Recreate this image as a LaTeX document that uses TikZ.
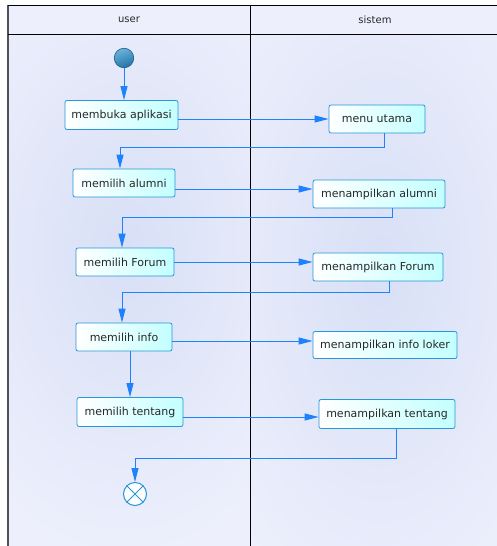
\documentclass[tikz,border=0pt]{standalone}
\usepackage{fontspec}
\setmainfont{DejaVu Sans}
\usepackage{tikz}
\usetikzlibrary{positioning, shapes, arrows.meta}
\definecolor{LaneBg}{RGB}{237, 239, 252}
\definecolor{LaneShade}{RGB}{216, 224, 246}
\definecolor{FrameGray}{RGB}{80, 80, 90}
\definecolor{FlowBlue}{RGB}{30, 130, 255}
\definecolor{BoxBorder}{RGB}{40, 150, 215}
\definecolor{BoxCyan}{RGB}{195, 255, 255}
\definecolor{TextGray}{RGB}{40, 40, 40}
\definecolor{StartLight}{RGB}{105, 180, 222}
\definecolor{StartDark}{RGB}{35, 115, 165}
\definecolor{EndBlue}{RGB}{35, 150, 220}

\begin{document}
\begin{tikzpicture}[x=1pt, y=-1pt,
    act/.style={draw=BoxBorder, line width=0.8pt, rounded corners=2pt,
      left color=white, right color=BoxCyan, text=TextGray,
      font=\fontsize{11}{13}\selectfont, inner sep=0pt},
    flow/.style={draw=FlowBlue, line width=1pt, -{Triangle[length=14pt, width=7pt]}}]
      \useasboundingbox (0,0) rectangle (497,546);

      % Swimlanes
      \fill[LaneBg] (8,5) rectangle (497,546);
      \begin{scope}
        \clip (8,34) rectangle (250,546);
        \shade[inner color=LaneShade, outer color=LaneBg] (-80,-60) rectangle (330,560);
      \end{scope}
      \begin{scope}
        \clip (250,34) rectangle (497,546);
        \shade[inner color=LaneShade, outer color=LaneBg] (180,-90) rectangle (580,630);
      \end{scope}
      \draw[FrameGray, line width=2pt] (8,546) -- (8,5);
      \draw[line width=0.9pt] (8,5) -- (497,5);
      \draw[line width=0.9pt] (8,34) -- (497,34);
      \draw[line width=0.9pt] (250,5) -- (250,546);

      % Lane titles
      \foreach \n/\x/\t in {userlane/129/user, sistemlane/375/sistem} {
        \node[text=TextGray, font=\fontsize{10}{12}\selectfont] (\n) at (\x,20) {\t};
      }

      % Start and end
      \node[circle, minimum size=19.5, inner sep=0pt, top color=StartLight,
            bottom color=StartDark, shading angle=20,
            draw=StartDark!80!black, line width=0.6pt] (start) at (124,58) {};
      \node[circle, minimum size=23, inner sep=0pt, fill=white, draw=EndBlue,
            line width=1pt] (end) at (135,494) {};
      \draw[EndBlue, line width=1pt] (end.north west) -- (end.south east)
                                     (end.north east) -- (end.south west);

      % Activities
      \foreach \n/\x/\y/\w/\h/\t in {buka/121.5/115/113/29/membuka aplikasi,
                                     menu/377/119/96/28/menu utama,
                                     alumni/124/183/102/28/memilih alumni,
                                     malumni/379/194/132/28/menampilkan alumni,
                                     forum/125/262/98/28/memilih Forum,
                                     mforum/378/267/130/28/menampilkan Forum,
                                     info/124/337/96/28/memilih info,
                                     minfo/385/345/144/27/menampilkan info loker,
                                     tentang/130/412/106/29/memilih tentang,
                                     mtentang/387/414/136/29/menampilkan tentang} {
        \node[act, minimum width=\w, minimum height=\h] (\n) at (\x,\y) {\t};
      }

      % Flows
      \draw[flow] (start) -- (start |- buka.north);
      \draw[flow] (buka.east |- menu.west) -- (menu.west);
      \draw[flow] ([xshift=7pt]menu.south) -- ++(0,14) -| ([xshift=-4pt]alumni.north);
      \draw[flow] ([yshift=-6pt]alumni.east) -- ([yshift=5pt]malumni.west);
      \draw[flow] ([xshift=13pt]malumni.south) -- ++(0,9) -| ([xshift=-3pt]forum.north);
      \draw[flow] (forum.east) -- (mforum.west |- forum.east);
      \draw[flow] ([xshift=11pt]mforum.south) -- ++(0,11) -| ([xshift=-2pt]info.north);
      \draw[flow] ([yshift=-4pt]info.east) -- ([yshift=4pt]minfo.west);
      \draw[flow] (tentang.north |- info.south) -- (tentang.north);
      \draw[flow] ([yshift=-5pt]tentang.east) -- ([yshift=-3pt]mtentang.west);
      \draw[flow] ([xshift=9pt]mtentang.south) -- ++(0,30) -| (end.north);
    \end{tikzpicture}
\end{document}
